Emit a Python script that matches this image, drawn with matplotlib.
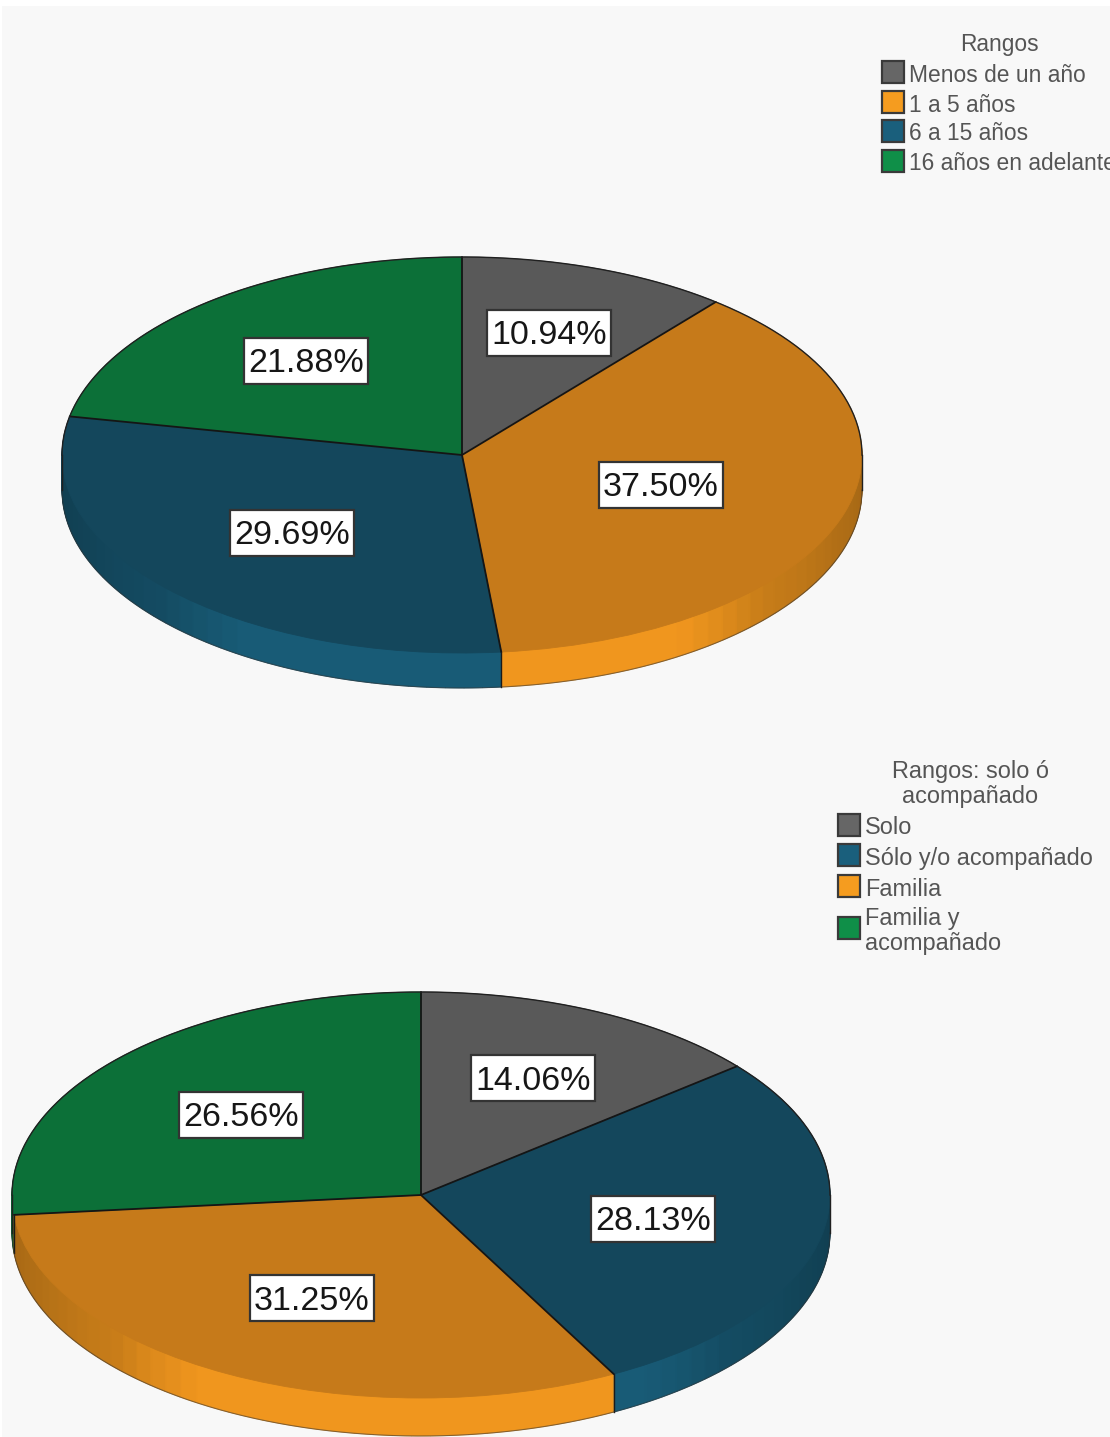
import numpy as np
import matplotlib
matplotlib.use('Agg')
import matplotlib.pyplot as plt
from matplotlib.patches import Rectangle

W, H = 1110, 1437

# datos
rangos_nombres = ['Menos de un año', '1 a 5 años', '6 a 15 años', '16 años en adelante']
rangos_valores = [10.94, 37.50, 29.69, 21.88]
solo_nombres = ['Solo', 'Sólo y/o acompañado', 'Familia', 'Familia y\nacompañado']
solo_valores = [14.06, 28.13, 31.25, 26.56]

# colores: cara superior, pared lateral, leyenda
GRIS = ('#595959', '#6a6a6a', '#666666')
NARANJA = ('#c67a1a', '#f0961e', '#f59c1f')
AZUL = ('#14475c', '#185b76', '#1a5f7c')
VERDE = ('#0c7038', '#0f8a45', '#0f8f48')
rangos_colores = [GRIS, NARANJA, AZUL, VERDE]
solo_colores = [GRIS, AZUL, NARANJA, VERDE]

plt.rcParams['font.family'] = ['Liberation Sans', 'DejaVu Sans']
fig = plt.figure(figsize=(W / 100, H / 100), dpi=100, facecolor='#f8f8f8')


def oscurecer(color, f):
    r, g, b = matplotlib.colors.to_rgb(color)
    return (r * f, g * f, b * f)


def torta(cx, cy, rx, ry, prof, valores, colores):
    ax = fig.add_axes([(cx - rx) / W, 1 - (cy + ry) / H, 2 * rx / W, 2 * ry / H])
    total = sum(valores)
    caida = prof / ry

    # pared lateral: porciones finas con sombra según el ángulo
    trozos, tonos = [], []
    acum = 0
    for v, c in zip(valores, colores):
        n = max(1, round(v / 0.75))
        for i in range(n):
            medio = (acum + (i + 0.5) * v / n) / total * 2 * np.pi
            sombra = np.interp(-np.cos(medio), [0, 0.35, 0.66, 0.84, 1], [0.68, 0.74, 0.83, 1, 1])
            trozos.append(v / n)
            tonos.append(oscurecer(c[1], sombra))
        acum += v
    for k in range(prof, 0, -1):
        wedges, _ = ax.pie(trozos, colors=tonos, startangle=90, counterclock=False,
                           center=(0, -k / ry), radius=1, wedgeprops={'linewidth': 0.6})
        for w, t in zip(wedges, tonos):
            w.set_edgecolor(t)

    # cara superior sin borde propio, para que el frente se funda con la pared
    wedges, _ = ax.pie(valores, colors=[c[0] for c in colores], startangle=90, counterclock=False,
                       center=(0, 0), radius=1, wedgeprops={'linewidth': 0.6})
    for w, c in zip(wedges, colores):
        w.set_edgecolor(c[0])

    # radios y separadores visibles en la pared
    acum = 0
    for v in valores:
        ang = acum / total * 2 * np.pi
        x, y = np.sin(ang), np.cos(ang)
        ax.plot([0, x], [0, y], color='#151515', lw=1.3, clip_on=False, solid_capstyle='round')
        if y < 0:
            ax.plot([x, x], [y, y - caida], color='#1a1a1a', lw=1.0, clip_on=False)
        acum += v

    # contorno: arco trasero oscuro, borde inferior suave
    t = np.linspace(-np.pi / 2, np.pi / 2, 200)
    ax.plot(np.sin(t), np.cos(t), color='#202020', lw=1.0, clip_on=False)
    t = np.linspace(np.pi / 2, 3 * np.pi / 2, 200)
    ax.plot(np.sin(t), np.cos(t) - caida, color='#303030', lw=0.8, alpha=0.55, clip_on=False)
    for lado in (-1, 1):
        ax.plot([lado, lado], [0, -caida], color='#202020', lw=1.0, clip_on=False)

    ax.set_aspect('auto')
    ax.set_xlim(-1, 1)
    ax.set_ylim(-1, 1)
    ax.axis('off')


torta(462, 455, 400, 198, 35, rangos_valores, rangos_colores)
torta(421, 1195, 409, 203, 38, solo_valores, solo_colores)

# capa de textos en pixeles
tx = fig.add_axes([0, 0, 1, 1], zorder=5)
tx.set_xlim(0, W)
tx.set_ylim(H, 0)
tx.axis('off')

# borde claro de la imagen
tx.add_patch(Rectangle((0, 0), W, 6, color='white', lw=0))
tx.add_patch(Rectangle((0, 0), 2, H, color='white', lw=0))

# etiquetas de porcentaje
etq_pos_1 = [(549, 333), (661, 485), (292, 533), (306, 361)]
etq_pos_2 = [(533, 1078), (653, 1219), (312, 1298), (241, 1115)]
for valores, posiciones in ((rangos_valores, etq_pos_1), (solo_valores, etq_pos_2)):
    for v, (x, y) in zip(valores, posiciones):
        tx.add_patch(Rectangle((x - 62, y - 23), 124, 46, facecolor='white',
                               edgecolor='#333333', lw=1.6))
        tx.text(x, y - 0.5, f'{v:.2f}%', fontsize=24.5, color='#161616', ha='center', va='center_baseline')

GRIS_TXT = '#555555'


def leyenda(titulo, x_tit, y_tit, nombres, colores, x_caja, y_filas, tam):
    tx.text(x_tit, y_tit, titulo, fontsize=tam, color=GRIS_TXT, ha='center', va='center',
            linespacing=1.1)
    for nombre, c, y in zip(nombres, colores, y_filas):
        tx.add_patch(Rectangle((x_caja, y - 11), 22, 22, facecolor=c[2],
                               edgecolor='#3a3a3a', lw=1.6))
        tx.text(x_caja + 27, y + 3, nombre, fontsize=tam, color=GRIS_TXT, ha='left', va='center',
                linespacing=1.1)


leyenda('Rangos', 999, 45, rangos_nombres, rangos_colores, 882, [72, 102, 131, 161], 16.4)
leyenda('Rangos: solo ó\nacompañado', 970, 784, solo_nombres, solo_colores, 838, [825, 855, 886, 928], 16.9)

fig.savefig('out.png', dpi=100, facecolor=fig.get_facecolor())
